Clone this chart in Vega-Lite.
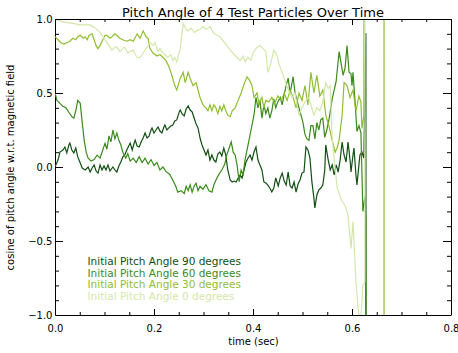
{
  "$schema": "https://vega.github.io/schema/vega-lite/v6.json",
  "width": 396,
  "height": 296,
  "autosize": {"type": "none"},
  "padding": {"left": 55, "top": 19, "right": 7, "bottom": 38},
  "background": "white",
  "title": {"text": "Pitch Angle of 4 Test Particles Over Time", "font": "DejaVu Sans", "fontSize": 13, "fontWeight": "normal", "color": "black", "frame": "group", "offset": -6},
  "config": {
    "view": {"stroke": null},
    "axis": {"labelFont": "DejaVu Sans", "labelFontSize": 10, "labelColor": "black", "titleFont": "DejaVu Sans", "titleFontSize": 10, "titleFontWeight": "normal", "titleColor": "black", "domainColor": "black", "domainWidth": 1, "tickColor": "black", "tickWidth": 1, "grid": false, "labelFlush": false, "labelOverlap": false, "labelBound": false}
  },
  "datasets": {
    "xmaj": [{"t": 0.2}, {"t": 0.4}, {"t": 0.6}],
    "xmin": [{"t": 0.05}, {"t": 0.1}, {"t": 0.15}, {"t": 0.25}, {"t": 0.3}, {"t": 0.35}, {"t": 0.45}, {"t": 0.5}, {"t": 0.55}, {"t": 0.65}, {"t": 0.7}, {"t": 0.75}],
    "ymaj": [{"v": -0.5}, {"v": 0}, {"v": 0.5}],
    "ymin": [{"v": -0.9}, {"v": -0.8}, {"v": -0.7}, {"v": -0.6}, {"v": -0.4}, {"v": -0.3}, {"v": -0.2}, {"v": -0.1}, {"v": 0.1}, {"v": 0.2}, {"v": 0.3}, {"v": 0.4}, {"v": 0.6}, {"v": 0.7}, {"v": 0.8}, {"v": 0.9}]
  },
  "layer": [
    {
      "data": {"values": [
{"a":90,"t":0,"v":0},{"a":90,"t":0.006,"v":0.047},{"a":90,"t":0.010,"v":0.101},{"a":90,"t":0.016,"v":0.115},{"a":90,"t":0.020,"v":0.135},{"a":90,"t":0.024,"v":0.095},{"a":90,"t":0.028,"v":0.149},{"a":90,"t":0.030,"v":0.162},{"a":90,"t":0.034,"v":0.115},{"a":90,"t":0.038,"v":0.095},{"a":90,"t":0.042,"v":0.128},{"a":90,"t":0.046,"v":0.068},{"a":90,"t":0.051,"v":0.027},{"a":90,"t":0.055,"v":-0.007},{"a":90,"t":0.061,"v":-0.020},{"a":90,"t":0.067,"v":0.000},{"a":90,"t":0.071,"v":-0.034},{"a":90,"t":0.075,"v":-0.007},{"a":90,"t":0.079,"v":0.014},{"a":90,"t":0.083,"v":-0.027},{"a":90,"t":0.087,"v":-0.041},{"a":90,"t":0.091,"v":0.014},{"a":90,"t":0.095,"v":-0.020},{"a":90,"t":0.099,"v":0.007},{"a":90,"t":0.103,"v":-0.020},{"a":90,"t":0.107,"v":0.014},{"a":90,"t":0.111,"v":-0.027},{"a":90,"t":0.117,"v":0.000},{"a":90,"t":0.121,"v":-0.020},{"a":90,"t":0.125,"v":-0.034},{"a":90,"t":0.129,"v":0.007},{"a":90,"t":0.133,"v":0.034},{"a":90,"t":0.137,"v":0.068},{"a":90,"t":0.141,"v":0.081},{"a":90,"t":0.145,"v":0.115},{"a":90,"t":0.149,"v":0.142},{"a":90,"t":0.152,"v":0.162},{"a":90,"t":0.156,"v":0.115},{"a":90,"t":0.160,"v":0.162},{"a":90,"t":0.162,"v":0.182},{"a":90,"t":0.166,"v":0.142},{"a":90,"t":0.170,"v":0.135},{"a":90,"t":0.174,"v":0.169},{"a":90,"t":0.178,"v":0.196},{"a":90,"t":0.182,"v":0.230},{"a":90,"t":0.186,"v":0.196},{"a":90,"t":0.190,"v":0.209},{"a":90,"t":0.194,"v":0.250},{"a":90,"t":0.196,"v":0.264},{"a":90,"t":0.200,"v":0.230},{"a":90,"t":0.204,"v":0.250},{"a":90,"t":0.208,"v":0.270},{"a":90,"t":0.212,"v":0.243},{"a":90,"t":0.216,"v":0.230},{"a":90,"t":0.220,"v":0.270},{"a":90,"t":0.222,"v":0.284},{"a":90,"t":0.226,"v":0.250},{"a":90,"t":0.230,"v":0.264},{"a":90,"t":0.234,"v":0.277},{"a":90,"t":0.238,"v":0.284},{"a":90,"t":0.242,"v":0.311},{"a":90,"t":0.246,"v":0.318},{"a":90,"t":0.251,"v":0.372},{"a":90,"t":0.253,"v":0.385},{"a":90,"t":0.257,"v":0.358},{"a":90,"t":0.261,"v":0.345},{"a":90,"t":0.265,"v":0.392},{"a":90,"t":0.269,"v":0.412},{"a":90,"t":0.273,"v":0.385},{"a":90,"t":0.277,"v":0.372},{"a":90,"t":0.281,"v":0.331},{"a":90,"t":0.285,"v":0.291},{"a":90,"t":0.289,"v":0.264},{"a":90,"t":0.293,"v":0.196},{"a":90,"t":0.297,"v":0.149},{"a":90,"t":0.301,"v":0.115},{"a":90,"t":0.305,"v":0.081},{"a":90,"t":0.309,"v":0.115},{"a":90,"t":0.313,"v":0.047},{"a":90,"t":0.317,"v":0.081},{"a":90,"t":0.321,"v":0.047},{"a":90,"t":0.325,"v":0.034},{"a":90,"t":0.329,"v":0.088},{"a":90,"t":0.333,"v":0.101},{"a":90,"t":0.337,"v":0.074},{"a":90,"t":0.341,"v":0.128},{"a":90,"t":0.345,"v":0.081},{"a":90,"t":0.349,"v":-0.020},{"a":90,"t":0.354,"v":-0.088},{"a":90,"t":0.358,"v":-0.101},{"a":90,"t":0.362,"v":-0.095},{"a":90,"t":0.366,"v":-0.101},{"a":90,"t":0.370,"v":-0.074},{"a":90,"t":0.374,"v":-0.054},{"a":90,"t":0.378,"v":-0.074},{"a":90,"t":0.382,"v":-0.020},{"a":90,"t":0.386,"v":0.034},{"a":90,"t":0.390,"v":0.061},{"a":90,"t":0.394,"v":0.081},{"a":90,"t":0.398,"v":0.047},{"a":90,"t":0.402,"v":0.101},{"a":90,"t":0.406,"v":0.135},{"a":90,"t":0.410,"v":0.047},{"a":90,"t":0.414,"v":0.014},{"a":90,"t":0.418,"v":-0.020},{"a":90,"t":0.422,"v":-0.101},{"a":90,"t":0.426,"v":-0.108},{"a":90,"t":0.430,"v":-0.122},{"a":90,"t":0.434,"v":-0.142},{"a":90,"t":0.438,"v":-0.169},{"a":90,"t":0.442,"v":-0.142},{"a":90,"t":0.446,"v":-0.074},{"a":90,"t":0.451,"v":-0.128},{"a":90,"t":0.455,"v":-0.074},{"a":90,"t":0.459,"v":-0.041},{"a":90,"t":0.463,"v":-0.095},{"a":90,"t":0.467,"v":-0.122},{"a":90,"t":0.471,"v":-0.034},{"a":90,"t":0.475,"v":-0.128},{"a":90,"t":0.479,"v":-0.142},{"a":90,"t":0.483,"v":-0.101},{"a":90,"t":0.487,"v":-0.169},{"a":90,"t":0.491,"v":-0.115},{"a":90,"t":0.495,"v":-0.088},{"a":90,"t":0.499,"v":-0.041},{"a":90,"t":0.503,"v":-0.034},{"a":90,"t":0.507,"v":0.135},{"a":90,"t":0.511,"v":0.115},{"a":90,"t":0.515,"v":0.061},{"a":90,"t":0.519,"v":-0.101},{"a":90,"t":0.523,"v":-0.209},{"a":90,"t":0.525,"v":-0.277},{"a":90,"t":0.529,"v":-0.189},{"a":90,"t":0.533,"v":-0.155},{"a":90,"t":0.537,"v":-0.142},{"a":90,"t":0.541,"v":-0.122},{"a":90,"t":0.545,"v":-0.020},{"a":90,"t":0.547,"v":0.149},{"a":90,"t":0.552,"v":0.047},{"a":90,"t":0.556,"v":-0.020},{"a":90,"t":0.560,"v":0.014},{"a":90,"t":0.564,"v":-0.054},{"a":90,"t":0.568,"v":0.014},{"a":90,"t":0.572,"v":-0.034},{"a":90,"t":0.576,"v":0.047},{"a":90,"t":0.580,"v":0.169},{"a":90,"t":0.584,"v":0.081},{"a":90,"t":0.588,"v":0.034},{"a":90,"t":0.592,"v":0.169},{"a":90,"t":0.596,"v":0.047},{"a":90,"t":0.598,"v":-0.034},{"a":90,"t":0.602,"v":0.081},{"a":90,"t":0.604,"v":0.128},{"a":90,"t":0.608,"v":-0.054},{"a":90,"t":0.610,"v":-0.122},{"a":90,"t":0.614,"v":0.014},{"a":90,"t":0.616,"v":0.081},{"a":90,"t":0.620,"v":0.101},{"a":90,"t":0.624,"v":0.061},{"a":90,"t":0.628,"v":0.905},{"a":90,"t":0.632,"v":-30},
{"a":60,"t":0,"v":0.50},{"a":60,"t":0.004,"v":0.45},{"a":60,"t":0.010,"v":0.43},{"a":60,"t":0.016,"v":0.41},{"a":60,"t":0.022,"v":0.40},{"a":60,"t":0.028,"v":0.37},{"a":60,"t":0.034,"v":0.34},{"a":60,"t":0.038,"v":0.33},{"a":60,"t":0.042,"v":0.38},{"a":60,"t":0.046,"v":0.45},{"a":60,"t":0.051,"v":0.43},{"a":60,"t":0.055,"v":0.30},{"a":60,"t":0.059,"v":0.18},{"a":60,"t":0.063,"v":0.10},{"a":60,"t":0.067,"v":0.06},{"a":60,"t":0.073,"v":0.04},{"a":60,"t":0.079,"v":0.05},{"a":60,"t":0.085,"v":0.08},{"a":60,"t":0.091,"v":0.06},{"a":60,"t":0.097,"v":0.12},{"a":60,"t":0.101,"v":0.16},{"a":60,"t":0.105,"v":0.12},{"a":60,"t":0.109,"v":0.21},{"a":60,"t":0.113,"v":0.17},{"a":60,"t":0.117,"v":0.25},{"a":60,"t":0.121,"v":0.19},{"a":60,"t":0.125,"v":0.23},{"a":60,"t":0.129,"v":0.18},{"a":60,"t":0.133,"v":0.15},{"a":60,"t":0.137,"v":0.10},{"a":60,"t":0.143,"v":0.06},{"a":60,"t":0.147,"v":0.09},{"a":60,"t":0.152,"v":0.04},{"a":60,"t":0.158,"v":0.06},{"a":60,"t":0.164,"v":0.03},{"a":60,"t":0.170,"v":0.07},{"a":60,"t":0.176,"v":0.03},{"a":60,"t":0.182,"v":0.06},{"a":60,"t":0.188,"v":0.02},{"a":60,"t":0.194,"v":0.05},{"a":60,"t":0.200,"v":0.01},{"a":60,"t":0.206,"v":0.03},{"a":60,"t":0.212,"v":-0.02},{"a":60,"t":0.218,"v":0.00},{"a":60,"t":0.224,"v":-0.03},{"a":60,"t":0.232,"v":-0.05},{"a":60,"t":0.238,"v":-0.09},{"a":60,"t":0.244,"v":-0.13},{"a":60,"t":0.248,"v":-0.17},{"a":60,"t":0.255,"v":-0.16},{"a":60,"t":0.261,"v":-0.18},{"a":60,"t":0.265,"v":-0.13},{"a":60,"t":0.269,"v":-0.16},{"a":60,"t":0.273,"v":-0.12},{"a":60,"t":0.277,"v":-0.17},{"a":60,"t":0.281,"v":-0.13},{"a":60,"t":0.285,"v":-0.11},{"a":60,"t":0.289,"v":-0.16},{"a":60,"t":0.293,"v":-0.13},{"a":60,"t":0.299,"v":-0.15},{"a":60,"t":0.305,"v":-0.12},{"a":60,"t":0.311,"v":-0.16},{"a":60,"t":0.317,"v":-0.17},{"a":60,"t":0.321,"v":-0.12},{"a":60,"t":0.325,"v":-0.09},{"a":60,"t":0.331,"v":-0.05},{"a":60,"t":0.337,"v":-0.02},{"a":60,"t":0.343,"v":0.02},{"a":60,"t":0.347,"v":0.08},{"a":60,"t":0.352,"v":0.13},{"a":60,"t":0.356,"v":0.17},{"a":60,"t":0.360,"v":0.10},{"a":60,"t":0.364,"v":0.08},{"a":60,"t":0.368,"v":0.01},{"a":60,"t":0.372,"v":-0.10},{"a":60,"t":0.376,"v":-0.02},{"a":60,"t":0.380,"v":-0.05},{"a":60,"t":0.384,"v":0.05},{"a":60,"t":0.390,"v":0.15},{"a":60,"t":0.396,"v":0.25},{"a":60,"t":0.402,"v":0.35},{"a":60,"t":0.406,"v":0.47},{"a":60,"t":0.410,"v":0.40},{"a":60,"t":0.414,"v":0.45},{"a":60,"t":0.418,"v":0.33},{"a":60,"t":0.422,"v":0.42},{"a":60,"t":0.426,"v":0.36},{"a":60,"t":0.430,"v":0.40},{"a":60,"t":0.434,"v":0.33},{"a":60,"t":0.438,"v":0.38},{"a":60,"t":0.442,"v":0.46},{"a":60,"t":0.446,"v":0.40},{"a":60,"t":0.450,"v":0.44},{"a":60,"t":0.455,"v":0.47},{"a":60,"t":0.459,"v":0.42},{"a":60,"t":0.463,"v":0.49},{"a":60,"t":0.467,"v":0.55},{"a":60,"t":0.471,"v":0.60},{"a":60,"t":0.475,"v":0.50},{"a":60,"t":0.479,"v":0.57},{"a":60,"t":0.481,"v":0.61},{"a":60,"t":0.485,"v":0.50},{"a":60,"t":0.489,"v":0.45},{"a":60,"t":0.493,"v":0.40},{"a":60,"t":0.497,"v":0.35},{"a":60,"t":0.501,"v":0.30},{"a":60,"t":0.505,"v":0.22},{"a":60,"t":0.509,"v":0.19},{"a":60,"t":0.513,"v":0.18},{"a":60,"t":0.517,"v":0.28},{"a":60,"t":0.521,"v":0.28},{"a":60,"t":0.525,"v":0.19},{"a":60,"t":0.529,"v":0.30},{"a":60,"t":0.533,"v":0.25},{"a":60,"t":0.537,"v":0.32},{"a":60,"t":0.541,"v":0.33},{"a":60,"t":0.545,"v":0.20},{"a":60,"t":0.549,"v":0.25},{"a":60,"t":0.554,"v":0.33},{"a":60,"t":0.560,"v":0.46},{"a":60,"t":0.564,"v":0.52},{"a":60,"t":0.568,"v":0.58},{"a":60,"t":0.574,"v":0.78},{"a":60,"t":0.578,"v":0.70},{"a":60,"t":0.582,"v":0.62},{"a":60,"t":0.586,"v":0.67},{"a":60,"t":0.590,"v":0.82},{"a":60,"t":0.594,"v":0.64},{"a":60,"t":0.598,"v":0.63},{"a":60,"t":0.600,"v":0.55},{"a":60,"t":0.602,"v":0.64},{"a":60,"t":0.606,"v":0.45},{"a":60,"t":0.610,"v":0.24},{"a":60,"t":0.614,"v":0.28},{"a":60,"t":0.618,"v":0.23},{"a":60,"t":0.620,"v":-0.03},{"a":60,"t":0.622,"v":-0.30},{"a":60,"t":0.626,"v":-0.20},{"a":60,"t":0.628,"v":-0.35},{"a":60,"t":0.632,"v":-30},
{"a":30,"t":0,"v":0.88},{"a":30,"t":0.006,"v":0.86},{"a":30,"t":0.012,"v":0.84},{"a":30,"t":0.018,"v":0.83},{"a":30,"t":0.024,"v":0.84},{"a":30,"t":0.030,"v":0.85},{"a":30,"t":0.036,"v":0.87},{"a":30,"t":0.042,"v":0.86},{"a":30,"t":0.046,"v":0.88},{"a":30,"t":0.051,"v":0.89},{"a":30,"t":0.057,"v":0.87},{"a":30,"t":0.061,"v":0.88},{"a":30,"t":0.065,"v":0.86},{"a":30,"t":0.069,"v":0.89},{"a":30,"t":0.075,"v":0.90},{"a":30,"t":0.079,"v":0.86},{"a":30,"t":0.083,"v":0.82},{"a":30,"t":0.087,"v":0.80},{"a":30,"t":0.091,"v":0.82},{"a":30,"t":0.095,"v":0.85},{"a":30,"t":0.101,"v":0.89},{"a":30,"t":0.105,"v":0.89},{"a":30,"t":0.111,"v":0.87},{"a":30,"t":0.115,"v":0.88},{"a":30,"t":0.121,"v":0.90},{"a":30,"t":0.125,"v":0.89},{"a":30,"t":0.131,"v":0.87},{"a":30,"t":0.137,"v":0.86},{"a":30,"t":0.145,"v":0.85},{"a":30,"t":0.152,"v":0.86},{"a":30,"t":0.158,"v":0.85},{"a":30,"t":0.166,"v":0.90},{"a":30,"t":0.172,"v":0.87},{"a":30,"t":0.178,"v":0.92},{"a":30,"t":0.184,"v":0.88},{"a":30,"t":0.188,"v":0.87},{"a":30,"t":0.192,"v":0.80},{"a":30,"t":0.198,"v":0.77},{"a":30,"t":0.206,"v":0.75},{"a":30,"t":0.212,"v":0.76},{"a":30,"t":0.218,"v":0.74},{"a":30,"t":0.224,"v":0.72},{"a":30,"t":0.230,"v":0.68},{"a":30,"t":0.236,"v":0.62},{"a":30,"t":0.242,"v":0.55},{"a":30,"t":0.246,"v":0.52},{"a":30,"t":0.253,"v":0.60},{"a":30,"t":0.259,"v":0.64},{"a":30,"t":0.263,"v":0.57},{"a":30,"t":0.269,"v":0.64},{"a":30,"t":0.273,"v":0.60},{"a":30,"t":0.279,"v":0.55},{"a":30,"t":0.285,"v":0.57},{"a":30,"t":0.289,"v":0.52},{"a":30,"t":0.293,"v":0.47},{"a":30,"t":0.299,"v":0.42},{"a":30,"t":0.305,"v":0.40},{"a":30,"t":0.309,"v":0.38},{"a":30,"t":0.313,"v":0.42},{"a":30,"t":0.317,"v":0.38},{"a":30,"t":0.321,"v":0.42},{"a":30,"t":0.325,"v":0.40},{"a":30,"t":0.329,"v":0.36},{"a":30,"t":0.333,"v":0.41},{"a":30,"t":0.337,"v":0.38},{"a":30,"t":0.341,"v":0.42},{"a":30,"t":0.345,"v":0.38},{"a":30,"t":0.349,"v":0.35},{"a":30,"t":0.354,"v":0.34},{"a":30,"t":0.358,"v":0.38},{"a":30,"t":0.364,"v":0.40},{"a":30,"t":0.370,"v":0.45},{"a":30,"t":0.376,"v":0.50},{"a":30,"t":0.382,"v":0.56},{"a":30,"t":0.388,"v":0.61},{"a":30,"t":0.394,"v":0.58},{"a":30,"t":0.398,"v":0.55},{"a":30,"t":0.402,"v":0.47},{"a":30,"t":0.408,"v":0.50},{"a":30,"t":0.412,"v":0.43},{"a":30,"t":0.418,"v":0.47},{"a":30,"t":0.422,"v":0.40},{"a":30,"t":0.426,"v":0.45},{"a":30,"t":0.432,"v":0.44},{"a":30,"t":0.438,"v":0.47},{"a":30,"t":0.444,"v":0.43},{"a":30,"t":0.450,"v":0.48},{"a":30,"t":0.457,"v":0.45},{"a":30,"t":0.463,"v":0.50},{"a":30,"t":0.469,"v":0.45},{"a":30,"t":0.475,"v":0.52},{"a":30,"t":0.481,"v":0.47},{"a":30,"t":0.487,"v":0.40},{"a":30,"t":0.493,"v":0.50},{"a":30,"t":0.499,"v":0.45},{"a":30,"t":0.505,"v":0.55},{"a":30,"t":0.511,"v":0.42},{"a":30,"t":0.517,"v":0.64},{"a":30,"t":0.523,"v":0.50},{"a":30,"t":0.529,"v":0.62},{"a":30,"t":0.535,"v":0.48},{"a":30,"t":0.541,"v":0.52},{"a":30,"t":0.547,"v":0.35},{"a":30,"t":0.554,"v":0.27},{"a":30,"t":0.560,"v":0.18},{"a":30,"t":0.566,"v":0.10},{"a":30,"t":0.570,"v":0.13},{"a":30,"t":0.574,"v":0.18},{"a":30,"t":0.580,"v":0.35},{"a":30,"t":0.584,"v":0.57},{"a":30,"t":0.590,"v":0.55},{"a":30,"t":0.596,"v":0.47},{"a":30,"t":0.602,"v":0.52},{"a":30,"t":0.608,"v":0.38},{"a":30,"t":0.614,"v":0.48},{"a":30,"t":0.618,"v":0.44},{"a":30,"t":0.620,"v":0.26},{"a":30,"t":0.624,"v":0.35},{"a":30,"t":0.630,"v":30},{"a":30,"t":0.664,"v":30},{"a":30,"t":0.6655,"v":-30},
{"a":0,"t":0,"v":1.00},{"a":0,"t":0.016,"v":0.98},{"a":0,"t":0.036,"v":0.97},{"a":0,"t":0.051,"v":0.96},{"a":0,"t":0.071,"v":0.96},{"a":0,"t":0.081,"v":0.94},{"a":0,"t":0.091,"v":0.91},{"a":0,"t":0.099,"v":0.87},{"a":0,"t":0.105,"v":0.84},{"a":0,"t":0.115,"v":0.79},{"a":0,"t":0.121,"v":0.81},{"a":0,"t":0.125,"v":0.81},{"a":0,"t":0.131,"v":0.78},{"a":0,"t":0.137,"v":0.80},{"a":0,"t":0.141,"v":0.81},{"a":0,"t":0.147,"v":0.77},{"a":0,"t":0.152,"v":0.78},{"a":0,"t":0.158,"v":0.79},{"a":0,"t":0.162,"v":0.76},{"a":0,"t":0.166,"v":0.74},{"a":0,"t":0.172,"v":0.74},{"a":0,"t":0.178,"v":0.77},{"a":0,"t":0.186,"v":0.81},{"a":0,"t":0.192,"v":0.84},{"a":0,"t":0.198,"v":0.82},{"a":0,"t":0.202,"v":0.84},{"a":0,"t":0.208,"v":0.78},{"a":0,"t":0.212,"v":0.80},{"a":0,"t":0.218,"v":0.77},{"a":0,"t":0.222,"v":0.76},{"a":0,"t":0.228,"v":0.74},{"a":0,"t":0.234,"v":0.76},{"a":0,"t":0.238,"v":0.72},{"a":0,"t":0.242,"v":0.74},{"a":0,"t":0.246,"v":0.71},{"a":0,"t":0.253,"v":0.80},{"a":0,"t":0.259,"v":0.97},{"a":0,"t":0.265,"v":0.93},{"a":0,"t":0.269,"v":0.92},{"a":0,"t":0.275,"v":0.94},{"a":0,"t":0.281,"v":0.91},{"a":0,"t":0.287,"v":0.92},{"a":0,"t":0.293,"v":0.93},{"a":0,"t":0.299,"v":0.95},{"a":0,"t":0.305,"v":0.93},{"a":0,"t":0.313,"v":0.95},{"a":0,"t":0.319,"v":0.91},{"a":0,"t":0.327,"v":0.89},{"a":0,"t":0.333,"v":0.88},{"a":0,"t":0.343,"v":0.84},{"a":0,"t":0.354,"v":0.79},{"a":0,"t":0.362,"v":0.76},{"a":0,"t":0.368,"v":0.74},{"a":0,"t":0.374,"v":0.72},{"a":0,"t":0.380,"v":0.75},{"a":0,"t":0.384,"v":0.71},{"a":0,"t":0.390,"v":0.74},{"a":0,"t":0.396,"v":0.72},{"a":0,"t":0.400,"v":0.77},{"a":0,"t":0.408,"v":0.81},{"a":0,"t":0.414,"v":0.82},{"a":0,"t":0.420,"v":0.80},{"a":0,"t":0.426,"v":0.78},{"a":0,"t":0.430,"v":0.64},{"a":0,"t":0.436,"v":0.70},{"a":0,"t":0.442,"v":0.79},{"a":0,"t":0.448,"v":0.76},{"a":0,"t":0.453,"v":0.69},{"a":0,"t":0.461,"v":0.62},{"a":0,"t":0.467,"v":0.56},{"a":0,"t":0.473,"v":0.51},{"a":0,"t":0.479,"v":0.47},{"a":0,"t":0.485,"v":0.50},{"a":0,"t":0.489,"v":0.42},{"a":0,"t":0.493,"v":0.35},{"a":0,"t":0.499,"v":0.40},{"a":0,"t":0.505,"v":0.44},{"a":0,"t":0.513,"v":0.47},{"a":0,"t":0.517,"v":0.42},{"a":0,"t":0.523,"v":0.35},{"a":0,"t":0.529,"v":0.40},{"a":0,"t":0.535,"v":0.38},{"a":0,"t":0.541,"v":0.44},{"a":0,"t":0.547,"v":0.57},{"a":0,"t":0.552,"v":0.53},{"a":0,"t":0.556,"v":0.55},{"a":0,"t":0.560,"v":0.20},{"a":0,"t":0.564,"v":0.05},{"a":0,"t":0.570,"v":-0.14},{"a":0,"t":0.578,"v":-0.22},{"a":0,"t":0.586,"v":-0.26},{"a":0,"t":0.592,"v":-0.33},{"a":0,"t":0.598,"v":-0.55},{"a":0,"t":0.602,"v":-0.37},{"a":0,"t":0.608,"v":-0.78},{"a":0,"t":0.614,"v":-1.01},{"a":0,"t":0.618,"v":-1.02},{"a":0,"t":0.622,"v":-0.80},{"a":0,"t":0.626,"v":-0.78},{"a":0,"t":0.630,"v":30}
      ]},
      "mark": {"type": "line", "clip": true, "strokeWidth": 1.2},
      "encoding": {
        "x": {"field": "t", "type": "quantitative", "scale": {"domain": [0, 0.8], "nice": false, "zero": false},
              "axis": {"values": [0, 0.2, 0.4, 0.6, 0.8], "format": ".1f", "ticks": false, "labelPadding": 8, "title": "time (sec)", "titlePadding": 3}},
        "y": {"field": "v", "type": "quantitative", "scale": {"domain": [-1, 1], "nice": false, "zero": false},
              "axis": {"values": [-1, -0.5, 0, 0.5, 1], "format": ".1f", "ticks": false, "labelPadding": 3, "title": "cosine of pitch angle w.r.t. magnetic field", "titlePadding": 12}},
        "color": {"field": "a", "type": "nominal", "sort": [90, 60, 30, 0],
                  "scale": {"domain": [90, 60, 30, 0], "range": ["#114f12", "#3b8b1b", "#8fbe2e", "#d4e7aa"]},
                  "legend": {"orient": "none", "legendX": 22, "legendY": 238, "title": null, "padding": 0,
                             "symbolSize": 0, "symbolOpacity": 0, "symbolStrokeWidth": 0, "labelOffset": 0,
                             "labelFont": "DejaVu Sans", "labelFontSize": 10.5, "rowPadding": 0.5,
                             "labelLimit": 400,
                             "labelExpr": "'Initial Pitch Angle ' + datum.label + ' degrees'",
                             "labelColor": {"expr": "scale('color', datum.value)"}}}
      }
    },
    {
      "data": {"values": [{}]},
      "mark": {"type": "rule", "color": "black", "strokeWidth": 1, "yOffset": 0.5},
      "encoding": {
        "x": {"datum": 0, "type": "quantitative", "scale": {"domain": [0, 0.8], "nice": false, "zero": false}},
        "x2": {"datum": 0.8},
        "y": {"datum": 1, "type": "quantitative", "scale": {"domain": [-1, 1], "nice": false, "zero": false}}
      }
    },
    {
      "data": {"values": [{}]},
      "mark": {"type": "rule", "color": "black", "strokeWidth": 1, "xOffset": 0.5},
      "encoding": {
        "x": {"datum": 0.8, "type": "quantitative", "scale": {"domain": [0, 0.8], "nice": false, "zero": false}},
        "y": {"datum": -1, "type": "quantitative", "scale": {"domain": [-1, 1], "nice": false, "zero": false}},
        "y2": {"datum": 1}
      }
    },
    {
      "data": {"name": "xmaj"},
      "mark": {"type": "tick", "orient": "vertical", "color": "black", "opacity": 1, "size": 6, "thickness": 1, "yOffset": -3, "xOffset": 0.5},
      "encoding": {
        "x": {"field": "t", "type": "quantitative", "scale": {"domain": [0, 0.8], "nice": false, "zero": false}},
        "y": {"datum": -1, "type": "quantitative", "scale": {"domain": [-1, 1], "nice": false, "zero": false}}
      }
    },
    {
      "data": {"name": "xmaj"},
      "mark": {"type": "tick", "orient": "vertical", "color": "black", "opacity": 1, "size": 6, "thickness": 1, "yOffset": 3, "xOffset": 0.5},
      "encoding": {
        "x": {"field": "t", "type": "quantitative", "scale": {"domain": [0, 0.8], "nice": false, "zero": false}},
        "y": {"datum": 1, "type": "quantitative", "scale": {"domain": [-1, 1], "nice": false, "zero": false}}
      }
    },
    {
      "data": {"name": "xmin"},
      "mark": {"type": "tick", "orient": "vertical", "color": "black", "opacity": 1, "size": 3, "thickness": 1, "yOffset": -1.5, "xOffset": 0.5},
      "encoding": {
        "x": {"field": "t", "type": "quantitative", "scale": {"domain": [0, 0.8], "nice": false, "zero": false}},
        "y": {"datum": -1, "type": "quantitative", "scale": {"domain": [-1, 1], "nice": false, "zero": false}}
      }
    },
    {
      "data": {"name": "xmin"},
      "mark": {"type": "tick", "orient": "vertical", "color": "black", "opacity": 1, "size": 3, "thickness": 1, "yOffset": 1.5, "xOffset": 0.5},
      "encoding": {
        "x": {"field": "t", "type": "quantitative", "scale": {"domain": [0, 0.8], "nice": false, "zero": false}},
        "y": {"datum": 1, "type": "quantitative", "scale": {"domain": [-1, 1], "nice": false, "zero": false}}
      }
    },
    {
      "data": {"name": "ymaj"},
      "mark": {"type": "tick", "orient": "horizontal", "color": "black", "opacity": 1, "size": 8, "thickness": 1, "xOffset": 4, "yOffset": 0.5},
      "encoding": {
        "y": {"field": "v", "type": "quantitative", "scale": {"domain": [-1, 1], "nice": false, "zero": false}},
        "x": {"datum": 0, "type": "quantitative", "scale": {"domain": [0, 0.8], "nice": false, "zero": false}}
      }
    },
    {
      "data": {"name": "ymaj"},
      "mark": {"type": "tick", "orient": "horizontal", "color": "black", "opacity": 1, "size": 8, "thickness": 1, "xOffset": -4, "yOffset": 0.5},
      "encoding": {
        "y": {"field": "v", "type": "quantitative", "scale": {"domain": [-1, 1], "nice": false, "zero": false}},
        "x": {"datum": 0.8, "type": "quantitative", "scale": {"domain": [0, 0.8], "nice": false, "zero": false}}
      }
    },
    {
      "data": {"name": "ymin"},
      "mark": {"type": "tick", "orient": "horizontal", "color": "black", "opacity": 1, "size": 4, "thickness": 1, "xOffset": 2, "yOffset": 0.5},
      "encoding": {
        "y": {"field": "v", "type": "quantitative", "scale": {"domain": [-1, 1], "nice": false, "zero": false}},
        "x": {"datum": 0, "type": "quantitative", "scale": {"domain": [0, 0.8], "nice": false, "zero": false}}
      }
    },
    {
      "data": {"name": "ymin"},
      "mark": {"type": "tick", "orient": "horizontal", "color": "black", "opacity": 1, "size": 4, "thickness": 1, "xOffset": -2, "yOffset": 0.5},
      "encoding": {
        "y": {"field": "v", "type": "quantitative", "scale": {"domain": [-1, 1], "nice": false, "zero": false}},
        "x": {"datum": 0.8, "type": "quantitative", "scale": {"domain": [0, 0.8], "nice": false, "zero": false}}
      }
    }
  ]
}
